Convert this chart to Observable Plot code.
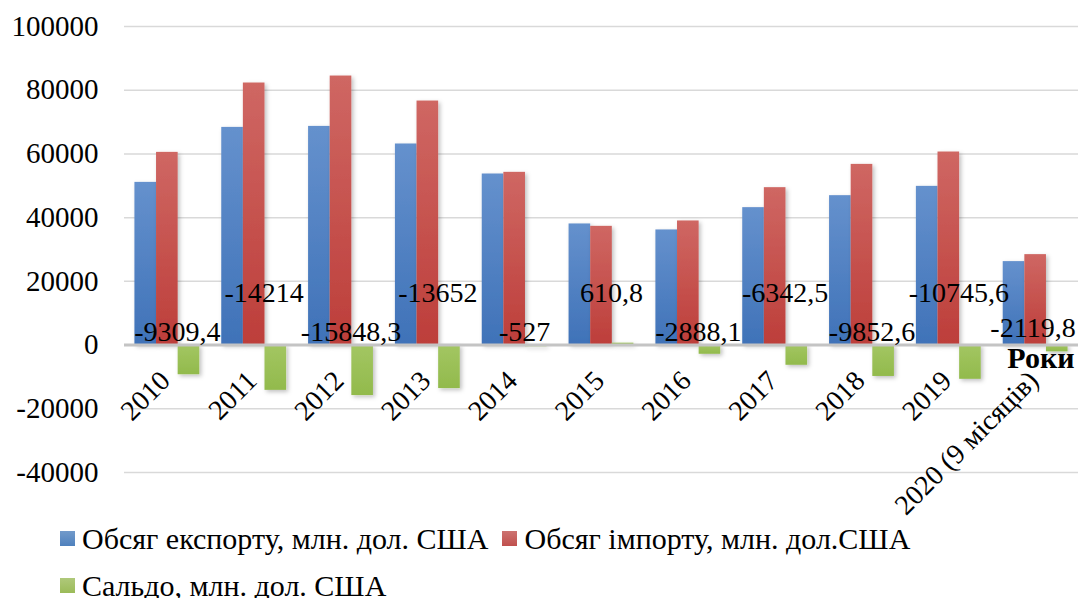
<!DOCTYPE html>
<html>
<head>
<meta charset="utf-8">
<script src="https://cdn.jsdelivr.net/npm/d3@7"></script>
<script src="https://cdn.jsdelivr.net/npm/@observablehq/plot@0.6"></script>
<style>
  html, body { margin: 0; padding: 0; background: #fff; }
  body { width: 1078px; height: 598px; overflow: hidden; font-family: "Liberation Serif", "Times New Roman", serif; color: #000; }
  #chart svg { overflow: visible; display: block; }
  #legend { margin-top: 5px; padding-left: 60px; font-size: 30px; }
  .row { height: 47px; display: flex; align-items: center; white-space: nowrap; }
  .item { display: flex; align-items: center; margin-right: 14px; }
  .sw { width: 15px; height: 15px; margin-right: 7px; flex: none; }
</style>
</head>
<body>
<div id="chart"></div>
<div id="legend"></div>
<script>
const years = ["2010", "2011", "2012", "2013", "2014", "2015", "2016", "2017", "2018", "2019", "2020 (9 місяців)"];
const exportVals = [51070, 68330, 68640, 63120, 53700, 38020, 36140, 43140, 46900, 49820, 26200];
const importVals = [60490, 82260, 84450, 76600, 54220, 37270, 38960, 49410, 56720, 60600, 28390];
const balanceVals = [-9309.4, -14214, -15848.3, -13652, -527, 610.8, -2888.1, -6342.5, -9852.6, -10745.6, -2119.8];
const seriesNames = ["Обсяг експорту, млн. дол. США", "Обсяг імпорту, млн. дол.США", "Сальдо, млн. дол. США"];
const seriesColors = ["#4f81bd", "#c0504d", "#9bbb59"];
const yTicks = [-40000, -20000, 0, 20000, 40000, 60000, 80000, 100000];
const xTitle = "Роки";

const W = 1078, H = 510, mL = 124, mR = 0, mT = 26, mB = 38;
const pI = 0.253, pO = 0.12;
const step = (W - mL - mR) / (years.length - pI + 2 * pO);
const bw = step * (1 - pI);
const sub = bw / 3;

const rows = years.map((year, i) => ({year, i, exp: exportVals[i], imp: importVals[i], bal: balanceVals[i]}));
const last = rows.length - 1;
const fmt = v => String(v).replace(".", ",");

const svg = Plot.plot({
  width: W, height: H,
  marginLeft: mL, marginRight: mR, marginTop: mT, marginBottom: mB,
  style: {fontFamily: "'Liberation Serif', 'Times New Roman', serif", background: "#fff", color: "#000"},
  x: {type: "band", domain: years, paddingInner: pI, paddingOuter: pO, round: false, axis: null},
  y: {domain: [-40000, 100000]},
  marks: [
    Plot.ruleY(yTicks.filter(t => t !== 0), {stroke: "#d9d9d9", strokeWidth: 1.5}),
    Plot.barY(rows, {x: "year", y: "exp", fill: "url(#gExp)", insetLeft: 0, insetRight: 2 * sub}),
    Plot.barY(rows, {x: "year", y: "imp", fill: "url(#gImp)", insetLeft: sub, insetRight: sub}),
    Plot.barY(rows, {x: "year", y: "bal", fill: "url(#gBal)", insetLeft: 2 * sub, insetRight: 0}),
    Plot.ruleY([0], {stroke: "#c4c4c4", strokeWidth: 3}),
    Plot.axisY(yTicks, {tickSize: 0, tickPadding: 26, fontSize: 29, tickFormat: d => String(d), label: null, fill: "#000"}),
    Plot.text(rows.filter(d => d.i % 2 === 0 && d.i !== last), {x: "year", y: () => 0, text: d => fmt(d.bal), dx: 10, dy: -13, fontSize: 28, fill: "#000"}),
    Plot.text(rows.filter(d => d.i % 2 === 1 && d.i !== last), {x: "year", y: () => 0, text: d => fmt(d.bal), dx: 10, dy: -52, fontSize: 28, fill: "#000"}),
    Plot.text(rows.filter(d => d.i === last), {x: "year", y: () => 0, text: d => fmt(d.bal), textAnchor: "end", dx: 40, dy: -17, fontSize: 28, fill: "#000"}),
    Plot.text(rows, {x: "year", y: () => 0, text: "year", rotate: -45, textAnchor: "end", dx: -2, dy: 31, fontSize: 28, fill: "#000"}),
    Plot.text([xTitle], {frameAnchor: "right", y: () => 0, text: d => d, textAnchor: "end", dx: -4, dy: 13, fontSize: 30, fontWeight: "bold", fill: "#000"})
  ]
});

svg.insertAdjacentHTML("afterbegin", `
<defs>
  <linearGradient id="gExp" x1="0" y1="0" x2="0" y2="1">
    <stop offset="0" stop-color="#6591cd"/><stop offset="1" stop-color="#3f72b8"/>
  </linearGradient>
  <linearGradient id="gImp" x1="0" y1="0" x2="0" y2="1">
    <stop offset="0" stop-color="#cf6763"/><stop offset="1" stop-color="#bd3e3a"/>
  </linearGradient>
  <linearGradient id="gBal" x1="0" y1="0" x2="0" y2="1">
    <stop offset="0" stop-color="#a3c662"/><stop offset="1" stop-color="#92ba4c"/>
  </linearGradient>
  <filter id="shadow" x="-20%" y="-20%" width="150%" height="150%">
    <feDropShadow dx="2" dy="2" stdDeviation="2" flood-color="#000" flood-opacity="0.25"/>
  </filter>
</defs>`);
svg.querySelectorAll('g[aria-label="bar"]').forEach(g => g.setAttribute("filter", "url(#shadow)"));
document.getElementById("chart").appendChild(svg);

const legend = document.getElementById("legend");
const groups = [[0, 1], [2]];
groups.forEach(idx => {
  const row = document.createElement("div");
  row.className = "row";
  idx.forEach(k => {
    const item = document.createElement("div");
    item.className = "item";
    const sw = document.createElement("span");
    sw.className = "sw";
    sw.style.background = `linear-gradient(${seriesColors[k]}cc, ${seriesColors[k]})`;
    const t = document.createElement("span");
    t.textContent = seriesNames[k];
    item.appendChild(sw);
    item.appendChild(t);
    row.appendChild(item);
  });
  legend.appendChild(row);
});
</script>
</body>
</html>
